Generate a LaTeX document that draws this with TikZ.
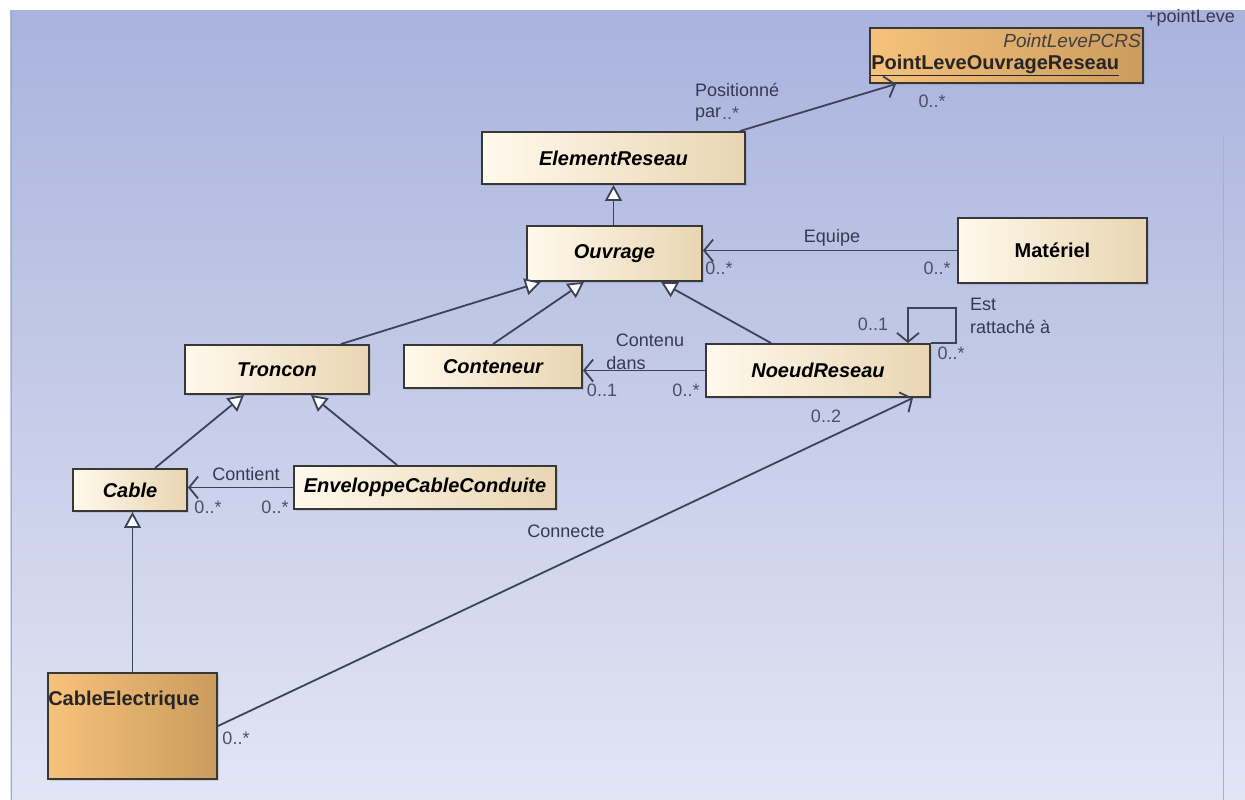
\documentclass[tikz,border=0pt]{standalone}
\usepackage{fontspec}
\setmainfont{Liberation Sans}
\usetikzlibrary{arrows.meta,shadows}
\definecolor{bgtop}{HTML}{A9B3DD}
\definecolor{bgbot}{HTML}{E2E5F4}
\definecolor{creamL}{HTML}{FFF9EC}
\definecolor{creamR}{HTML}{E9D5B2}
\definecolor{orL}{HTML}{F6C27B}
\definecolor{orR}{HTML}{CC9C5E}
\definecolor{edge}{HTML}{383838}
\definecolor{wire}{HTML}{3C4257}
\definecolor{lbl}{HTML}{343A52}
\definecolor{mult}{HTML}{4A5068}
\newcommand\clsf{\fontsize{20}{24}\selectfont\bfseries\itshape}
\newcommand\clsb{\fontsize{20}{24}\selectfont\bfseries}
\newcommand\lblf{\fontsize{18}{21}\selectfont}
\begin{document}
\begin{tikzpicture}[x=1pt,y=-1pt,
  classbox/.style={draw=edge,line width=1.9pt,left color=creamL,right color=creamR,
    inner sep=0pt,drop shadow={shadow xshift=2pt,shadow yshift=-2pt,opacity=0.25}},
  orbox/.style={draw=edge,line width=1.9pt,left color=orL,right color=orR,inner sep=0pt,
    drop shadow={shadow xshift=2pt,shadow yshift=-2pt,opacity=0.25}},
  gen/.style={draw=wire,line width=1.8pt,-{Triangle[length=16pt,width=17pt,fill=white]}},
  assoc/.style={draw=wire,line width=1.8pt,-{Straight Barb[length=9pt,width=22pt]}},
  lab/.style={text=lbl,font=\lblf,inner sep=0pt},
  mul/.style={text=mult,font=\lblf,inner sep=0pt}]
\useasboundingbox (0,0) rectangle (1245,800);
\fill[white] (0,0) rectangle (1245,800);
\shade[top color=bgtop,bottom color=bgbot] (10,11) rectangle (1245,800);
\draw[color=bgtop!80!gray,line width=1pt] (11,11) -- (11,800);
\draw[color=bgtop!90!gray,line width=1pt] (1223,135) -- (1223,800);

% boxes
\node[orbox,minimum width=273pt,minimum height=55pt] (PLOR) at (1006.5,55.5) {};
\node[classbox,minimum width=263pt,minimum height=52pt,font=\clsf] (ER) at (613.5,158) {ElementReseau};
\node[classbox,minimum width=175pt,minimum height=55pt,font=\clsf] (OUV) at (614.5,253.5) {Ouvrage};
\node[classbox,minimum width=189pt,minimum height=65pt,font=\clsb] (MAT) at (1052.5,250.5) {Matériel};
\node[classbox,minimum width=184pt,minimum height=49pt,font=\clsf] (TRO) at (277,369.5) {Troncon};
\node[classbox,minimum width=178pt,minimum height=43pt,font=\clsf] (CON) at (493,366.5) {Conteneur};
\node[classbox,minimum width=224pt,minimum height=53pt,font=\clsf] (NR) at (818,370.5) {NoeudReseau};
\node[classbox,minimum width=114pt,minimum height=42pt,font=\clsf] (CAB) at (130,490) {Cable};
\node[classbox,minimum width=262pt,minimum height=43pt,font=\clsf] (ENV) at (425,487.5) {EnveloppeCableConduite};
\node[orbox,minimum width=169pt,minimum height=106pt] (CE) at (132.5,726) {};

% texts inside orange boxes
\node[anchor=east,inner sep=0pt,font=\fontsize{19}{22}\selectfont\itshape,text=black!75] (plorst) at ([xshift=-3pt,yshift=-14pt]PLOR.north east) {PointLevePCRS};
\node[anchor=west,inner sep=0pt,font=\clsb,text=black!85] (plorn) at ([xshift=2pt,yshift=19pt]PLOR.south west) {\underline{PointLeveOuvrageReseau}};
\node[anchor=west,inner sep=0pt,font=\clsb,text=black!85] (cen) at ([xshift=1pt,yshift=-28pt]CE.north west) {CableElectrique};
\node[lab,anchor=west] (plattr) at (1146,18) {+pointLeve};

% connectors
\draw[assoc] ([xshift=-6pt]ER.north east) -- ([xshift=27pt]PLOR.south west);
\draw[gen] (OUV.north -| ER.south) -- (ER.south);
\draw[assoc] (MAT.west) -- (MAT.west -| OUV.east);
\draw[gen] ([xshift=-29pt]TRO.north east) -- ([xshift=15pt]OUV.south west);
\draw[gen] (CON.north) -- ([xshift=58pt]OUV.south west);
\draw[gen] ([xshift=66pt]NR.north west) -- ([xshift=-42pt]OUV.south east);
\draw[assoc] (NR.west) -- (NR.west -| CON.east);
\draw[assoc] (NR.north east) -- ++(25,0) -- ++(0,-35) -- ++(-48,0) -- ++(0,35);
\draw[assoc] (CE.east) -- ([xshift=-18pt]NR.south east);
\draw[gen] ([xshift=25pt]CAB.north) -- ([xshift=60pt]TRO.south west);
\draw[gen] ([xshift=104pt]ENV.north west) -- ([xshift=-59pt]TRO.south east);
\draw[assoc] (ENV.west) -- (ENV.west -| CAB.east);
\draw[gen] (CE.north) -- (CE.north |- CAB.south);

% labels
\node[lab,anchor=west] (l1) at (695,90) {Positionné};
\node[lab,anchor=west] (l2) at (695,115) {par};
\node[mul,anchor=west] (m0) at (722,113) {..*};
\node[mul] (m1) at (932,101) {0..*};
\node[lab] (l3) at (832,238) {Equipe};
\node[mul] (m2) at (719,268) {0..*};
\node[mul] (m3) at (937,268) {0..*};
\node[mul] (m4) at (873,324) {0..1};
\node[lab,anchor=west] (l4) at (970,304) {Est};
\node[lab,anchor=west] (l5) at (970,327) {rattaché à};
\node[mul] (m5) at (951,353) {0..*};
\node[lab] (l6) at (650,340) {Contenu};
\node[lab] (l7) at (626,363) {dans};
\node[mul] (m6) at (602,390) {0..1};
\node[mul] (m7) at (686,390) {0..*};
\node[mul] (m8) at (826,416) {0..2};
\node[lab] (l8) at (566,531) {Connecte};
\node[mul] (m9) at (236,738) {0..*};
\node[lab] (l9) at (246,474) {Contient};
\node[mul] (m10) at (208,507) {0..*};
\node[mul] (m11) at (275,507) {0..*};
\end{tikzpicture}
\end{document}
